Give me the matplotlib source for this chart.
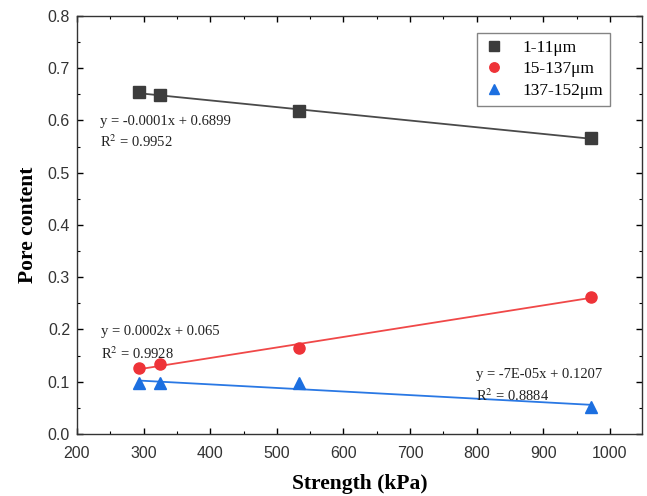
import numpy as np
import matplotlib
matplotlib.use("Agg")
import matplotlib.pyplot as plt
from matplotlib.ticker import MultipleLocator

plt.rcParams["mathtext.fontset"] = "stix"

strength = [293, 325, 533, 972]
s1_11 = [0.654, 0.648, 0.618, 0.566]
s15_137 = [0.126, 0.133, 0.165, 0.263]
s137_152 = [0.098, 0.097, 0.097, 0.052]
labels = ["1-11μm", "15-137μm", "137-152μm"]
eqs = [("y = -0.0001x + 0.6899", "R$^2$ = 0.9952"),
       ("y = 0.0002x + 0.065", "R$^2$ = 0.9928"),
       ("y = -7E-05x + 0.1207", "R$^2$ = 0.8884")]

fig = plt.figure(figsize=(6.47, 4.96), dpi=100)
ax = fig.add_axes([0.119, 0.125, 0.873, 0.843])

colors = ["#3c3c3c", "#ee3338", "#1c6fe0"]
lcolors = ["#4a4a4a", "#f04848", "#2a78e4"]
markers = ["s", "o", "^"]
series = [s1_11, s15_137, s137_152]
x = np.array(strength, dtype=float)
for ys, c, lc, m, lab in zip(series, colors, lcolors, markers, labels):
    k, b = np.polyfit(x, ys, 1)
    xx = np.array([x.min(), x.max()])
    ax.plot(xx, k * xx + b, color=lc, lw=1.3, zorder=2)
    ax.plot(x, ys, linestyle="none", marker=m, color=c, markersize=8, label=lab, zorder=3)

serif = ["Liberation Serif", "DejaVu Serif"]
pos = [(235, 0.597, 0.559), (236, 0.197, 0.154), (799, 0.113, 0.073)]
for (e, r), (px, y1, y2) in zip(eqs, pos):
    ax.text(px, y1, e, family=serif, fontsize=10.5, va="center", ha="left", color="#222222")
    ax.text(px, y2, r, family=serif, fontsize=10.5, va="center", ha="left", color="#222222")

ax.set_xlim(200, 1048)
ax.set_ylim(0, 0.8)
ax.xaxis.set_major_locator(MultipleLocator(100))
ax.xaxis.set_minor_locator(MultipleLocator(50))
ax.yaxis.set_major_locator(MultipleLocator(0.1))
ax.yaxis.set_minor_locator(MultipleLocator(0.05))
ax.yaxis.set_major_formatter(matplotlib.ticker.FormatStrFormatter("%.1f"))
ax.tick_params(which="both", direction="in", top=True, right=True)
ax.tick_params(which="major", length=4, width=1)
ax.tick_params(which="minor", length=2, width=0.8)
ax.tick_params(axis="x", which="major", pad=9)
ax.tick_params(axis="y", which="major", pad=5)
for lab in ax.get_xticklabels() + ax.get_yticklabels():
    lab.set_family(["Liberation Sans", "DejaVu Sans"])
    lab.set_fontsize(11.5)
    lab.set_color("#333333")
for s in ax.spines.values():
    s.set_linewidth(1.0)
    s.set_color("#333333")

ax.set_xlabel("Strength (kPa)", family=serif, fontsize=15.5, fontweight="bold", labelpad=9)
ax.set_ylabel("Pore content", family=serif, fontsize=15.5, fontweight="bold", labelpad=7)

leg = ax.legend(loc="upper right", bbox_to_anchor=(0.943, 0.959), borderaxespad=0,
                prop={"family": serif, "size": 12.5}, markerscale=0.85,
                frameon=True, fancybox=False, edgecolor="#666666", handlelength=1.2,
                handletextpad=1.0, borderpad=0.4, labelspacing=0.3)
leg.get_frame().set_linewidth(1.0)

fig.savefig("out.png", dpi=100)
